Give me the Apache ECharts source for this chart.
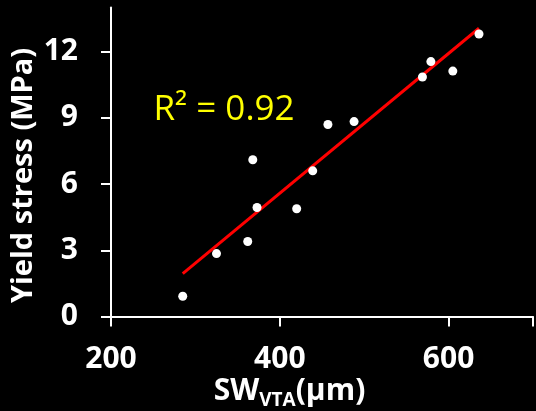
<!DOCTYPE html>
<html>
<head>
<meta charset="utf-8">
<script src="https://cdn.jsdelivr.net/npm/echarts@6/dist/echarts.min.js"></script>
<style>
html,body{margin:0;padding:0;background:#000;}
#chart{width:536px;height:411px;}
</style>
</head>
<body>
<div id="chart"></div>
<script>
// Data
const swVTA = [285, 325, 362, 368, 373, 420, 439, 457, 488, 569, 579, 605, 636];
const yieldStress = [0.92, 2.85, 3.4, 7.1, 4.94, 4.88, 6.6, 8.7, 8.83, 10.85, 11.55, 11.12, 12.8];
const fitX = [285, 636];
const fitY = [1.94, 13.06];
const xTicks = [200, 400, 600];
const yTicks = [0, 3, 6, 9, 12];
const r2Label = 'R² = 0.92';
const xTitleMain = 'SW';
const xTitleSub = 'VTA';
const xTitleUnit = '(μm)';
const yTitle = 'Yield stress (MPa)';

const chart = echarts.init(document.getElementById('chart'));
const FONT = '"Open Sans", "Liberation Sans", sans-serif';

chart.setOption({
  backgroundColor: '#000',
  animation: false,
  grid: { left: 111, right: -6, top: 7.5, bottom: 94.5 },
  xAxis: {
    type: 'value', min: 200, max: 700, interval: 200,
    axisLine: { show: true, lineStyle: { color: '#fff', width: 2 } },
    axisTick: { show: true, length: 10, lineStyle: { color: '#fff', width: 2 } },
    splitLine: { show: false },
    axisLabel: {
      color: '#fff', fontSize: 30, fontWeight: 'bold', fontFamily: FONT, margin: 28,
      formatter: v => xTicks.includes(v) ? String(v) : ''
    }
  },
  yAxis: {
    type: 'value', min: 0, max: 14, interval: 3,
    axisLine: { show: true, lineStyle: { color: '#fff', width: 2 } },
    axisTick: { show: true, length: 10, lineStyle: { color: '#fff', width: 2 } },
    splitLine: { show: false },
    axisLabel: {
      color: '#fff', fontSize: 30, fontWeight: 'bold', fontFamily: FONT, margin: 33,
      showMaxLabel: false,
      formatter: v => yTicks.includes(v) ? String(v) : ''
    }
  },
  series: [
    {
      type: 'line',
      data: fitX.map((x, i) => [x, fitY[i]]),
      showSymbol: false,
      lineStyle: { color: '#ff0000', width: 3 },
      z: 2
    },
    {
      type: 'scatter',
      data: swVTA.map((x, i) => [x, yieldStress[i]]),
      symbolSize: 9,
      itemStyle: { color: '#fff', opacity: 1 },
      z: 3
    }
  ],
  graphic: [
    {
      type: 'text', x: 224, y: 110,
      style: {
        text: r2Label, fill: '#ffff00', font: '35px ' + FONT,
        textAlign: 'center', textVerticalAlign: 'middle'
      }
    },
    {
      type: 'text', x: 23.5, y: 175.5, rotation: Math.PI / 2,
      style: {
        text: yTitle, fill: '#fff', font: 'bold 29px ' + FONT,
        textAlign: 'center', textVerticalAlign: 'middle'
      }
    },
    {
      type: 'text', x: 289.5, y: 391,
      style: {
        text: '{a|' + xTitleMain + '}{b|' + xTitleSub + '}{a|' + xTitleUnit + '}',
        textAlign: 'center', textVerticalAlign: 'middle',
        rich: {
          a: { fontSize: 30, fontWeight: 'bold', fontFamily: 'Open Sans', fill: '#fff' },
          b: { fontSize: 19, fontWeight: 'bold', fontFamily: 'Open Sans', fill: '#fff', padding: [19, 0, 0, 0] }
        }
      }
    }
  ]
});
</script>
</body>
</html>
